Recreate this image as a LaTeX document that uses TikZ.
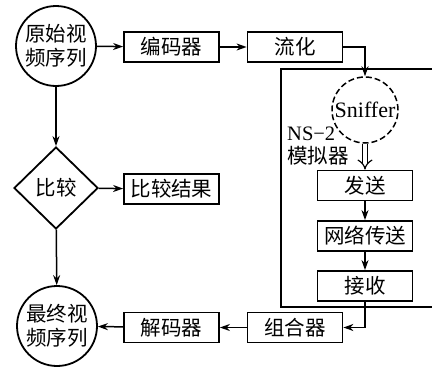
\documentclass[tikz,border=0pt]{standalone}
\usepackage{fontspec}
\setmainfont{Liberation Serif}
\newfontfamily\cjk{Noto Sans CJK SC}
\usetikzlibrary{arrows.meta,shapes.geometric,calc}
\begin{document}
\begin{tikzpicture}[x=1pt,y=-1pt,
  txt/.style={font=\cjk\fontsize{20.5}{24}\selectfont},
  box/.style={txt,draw,line width=1.8pt,minimum width=95pt,minimum height=30pt,inner sep=0pt},
  circ/.style={txt,draw,circle,line width=1.8pt,minimum size=80pt,inner sep=0pt,align=center},
  arr/.style={line width=1.5pt,-{Stealth[length=10pt,width=7pt]}},
  conn/.style={line width=1.5pt}]
\useasboundingbox (0,0) rectangle (432,367);
% big NS-2 frame (cut by the picture edge)
\coordinate (fr1) at (432,69);
\coordinate (fr2) at (281,69);
\coordinate (fr3) at (281,307);
\coordinate (fr4) at (432,307);
\draw[line width=1.6pt] (fr1) -- (fr2) -- (fr3) -- (fr4);

\node[circ] (orig) at (56,46) {原始视\\频序列};
\node[box] (enc) at (171.5,47) {编码器};
\node[box] (flow) at (295,47) {流化};
\node[draw,circle,dash pattern=on 6pt off 3pt,line width=1.5pt,minimum size=66pt,inner sep=0pt,
      font=\fontsize{22}{24}\selectfont] (sn) at (365,110) {Sniffer};
\node[anchor=west,align=left,inner sep=0pt,font=\fontsize{20.5}{23}\selectfont] (ns) at (287,146.5)
      {NS−2\\{\cjk 模拟器}};
\node[box] (send) at (365,185.5) {发送};
\node[box] (net) at (365,236) {网络传送};
\node[box] (recv) at (365,286) {接收};
\node[box] (comb) at (295,327.5) {组合器};
\node[box] (dec) at (171.5,327.5) {解码器};
\node[circ] (fin) at (57,326) {最终视\\频序列};
\node[txt,draw,diamond,line width=1.8pt,minimum width=84pt,minimum height=82pt,aspect=1.02,inner sep=0pt] (cmp) at (56,188) {比较};
\node[box] (res) at (171.5,189) {比较结果};

\draw[arr] (orig) -- (enc);
\draw[arr] (enc) -- (flow);
\draw[arr] (flow) -| (sn);
\draw[line width=1.2pt,double distance=4pt,-{Implies[length=8pt]}] (sn) -- (send);
\draw[arr] (send) -- (net);
\draw[arr] (net) -- (recv);
\draw[arr] (recv) |- (comb);
\draw[arr] (comb) -- (dec);
\draw[arr] (dec) -- (fin);
\draw[arr] (orig) -- (cmp);
\draw[arr] (cmp) -- (fin);
\draw[arr] (cmp) -- (res);
\end{tikzpicture}
\end{document}
